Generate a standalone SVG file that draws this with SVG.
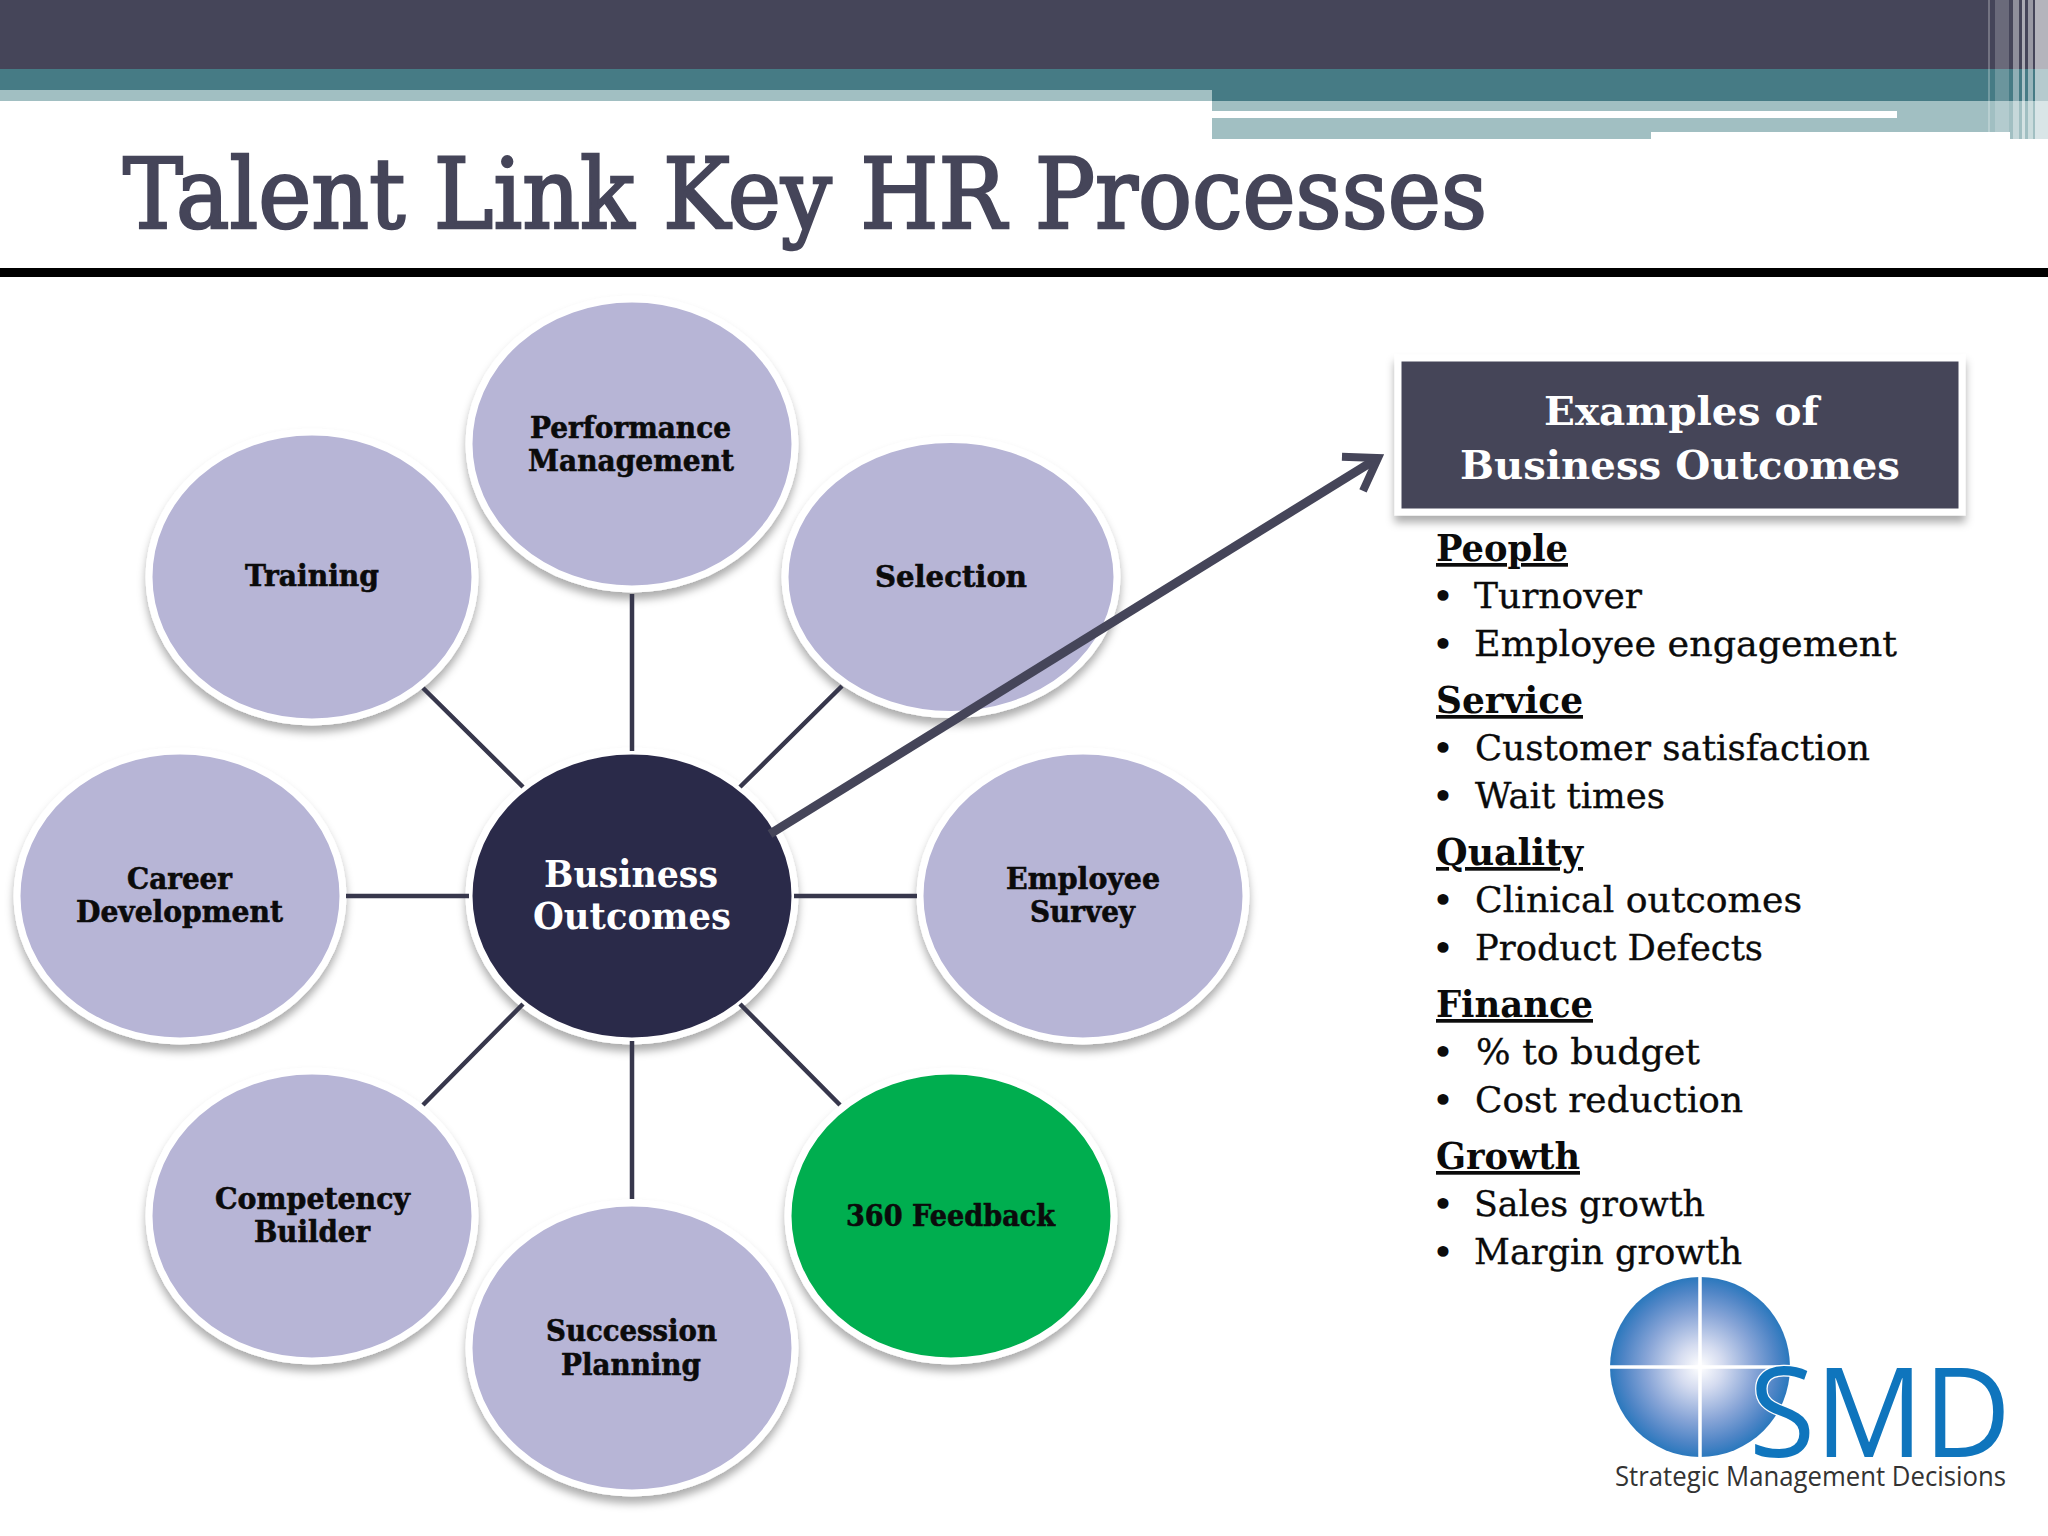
<svg xmlns="http://www.w3.org/2000/svg" width="2048" height="1536" viewBox="0 0 2048 1536">
<style>
text{font-family:"DejaVu Serif","Liberation Serif",serif}
.title{font-size:98px;fill:#454559;stroke:#454559;stroke-width:2.6}
.n{font-size:29px;font-weight:700;fill:#0b0b0b;stroke:#0b0b0b;stroke-width:.6}
.c{font-size:38px;font-weight:700;fill:#fff}
.h{font-size:40px;font-weight:700;fill:#fff}
.g{font-size:37px;font-weight:700;fill:#0b0b0b;text-decoration:underline}
.i{font-size:36px;fill:#0b0b0b;stroke:#0b0b0b;stroke-width:.35}
.b{font-size:38px;fill:#0b0b0b;text-anchor:middle}
.e{fill:#b7b5d6;stroke:#fff;stroke-width:7;filter:url(#sh)}
.l{stroke:#37374c;stroke-width:4.5;fill:none}
.logo{font-family:"Open Sans","Noto Sans",sans-serif}
</style>
<defs>
<filter id="sh" x="-15%" y="-15%" width="130%" height="135%"><feDropShadow dx="0" dy="7" stdDeviation="4" flood-color="#000" flood-opacity=".32"/></filter>
<radialGradient id="gl" cx=".5" cy=".5" r=".5"><stop offset="0" stop-color="#fff"/><stop offset=".25" stop-color="#d5dcf0"/><stop offset=".6" stop-color="#88a5d7"/><stop offset=".85" stop-color="#4f85c6"/><stop offset="1" stop-color="#2a78bd"/></radialGradient>
<marker id="ah" markerUnits="userSpaceOnUse" markerWidth="60" markerHeight="60" refX="50" refY="30" orient="auto" overflow="visible"><path d="M20,10 L50,30 L20,50" fill="none" stroke="#454559" stroke-width="8"/></marker>
</defs>
<rect width="2048" height="1536" fill="#fff"/>
<g id="header">
<rect width="2048" height="69" fill="#454559"/>
<rect y="69" width="2048" height="32" fill="#467b85"/>
<rect x="0" y="90" width="1212" height="11" fill="#a1bfc2"/>
<rect x="1212" y="101" width="836" height="38" fill="#a1bfc2"/>
<rect x="1651" y="132" width="359" height="7" fill="#fff"/>
<rect x="1212" y="111" width="685" height="7" fill="#fff"/>
<g fill="#fff">
<rect x="1988" y="0" width="2" height="139" opacity=".25"/>
<rect x="1995" y="0" width="14" height="139" opacity=".2"/>
<rect x="2013" y="0" width="6" height="139" opacity=".4"/>
<rect x="2022" y="0" width="3" height="139" opacity=".55"/>
<rect x="2028" y="0" width="5" height="139" opacity=".45"/>
<rect x="2035" y="0" width="13" height="139" opacity=".6"/>
</g>
<rect y="268" width="2048" height="9" fill="#000"/>
</g>
<text class="title" x="123" y="228" textLength="1364" lengthAdjust="spacingAndGlyphs">Talent Link Key HR Processes</text>
<g id="center"><ellipse class="e" cx="632" cy="896" rx="163" ry="145" style="fill:#2c2a4a"/>
<text class="c" x="544" y="887" textLength="174" lengthAdjust="spacingAndGlyphs">Business</text>
<text class="c" x="533" y="929" textLength="198" lengthAdjust="spacingAndGlyphs">Outcomes</text></g>
<g id="performance"><ellipse class="e" cx="632" cy="444" rx="163" ry="145"/>
<text class="n" x="530" y="438" textLength="201" lengthAdjust="spacingAndGlyphs">Performance</text>
<text class="n" x="528" y="471" textLength="206" lengthAdjust="spacingAndGlyphs">Management</text></g>
<g id="training"><ellipse class="e" cx="312" cy="577" rx="163" ry="145"/>
<text class="n" x="245" y="586" textLength="134" lengthAdjust="spacingAndGlyphs">Training</text></g>
<g id="selection"><ellipse class="e" cx="951" cy="577" rx="166" ry="137.5"/>
<text class="n" x="875" y="587" textLength="152" lengthAdjust="spacingAndGlyphs">Selection</text></g>
<g id="career"><ellipse class="e" cx="180" cy="896" rx="163" ry="145"/>
<text class="n" x="127" y="889" textLength="105" lengthAdjust="spacingAndGlyphs">Career</text>
<text class="n" x="76" y="922" textLength="207" lengthAdjust="spacingAndGlyphs">Development</text></g>
<g id="employee"><ellipse class="e" cx="1083" cy="896" rx="163" ry="145"/>
<text class="n" x="1006" y="889" textLength="154" lengthAdjust="spacingAndGlyphs">Employee</text>
<text class="n" x="1030" y="922" textLength="105" lengthAdjust="spacingAndGlyphs">Survey</text></g>
<g id="competency"><ellipse class="e" cx="312" cy="1216" rx="163" ry="145"/>
<text class="n" x="215" y="1209" textLength="195" lengthAdjust="spacingAndGlyphs">Competency</text>
<text class="n" x="254" y="1242" textLength="116" lengthAdjust="spacingAndGlyphs">Builder</text></g>
<g id="feedback"><ellipse class="e" cx="951" cy="1216" rx="163" ry="145" style="fill:#00ae4f"/>
<text class="n" x="846" y="1226" textLength="209" lengthAdjust="spacingAndGlyphs">360 Feedback</text></g>
<g id="succession"><ellipse class="e" cx="632" cy="1348" rx="163" ry="145"/>
<text class="n" x="546" y="1341" textLength="171" lengthAdjust="spacingAndGlyphs">Succession</text>
<text class="n" x="561" y="1375" textLength="140" lengthAdjust="spacingAndGlyphs">Planning</text></g>
<g id="connectors">
<path class="l" d="M632,594V751M632,1041V1199M346,896H469M794,896H917M523,787L423,688M740,787L842,686M523,1004L423,1105M740,1004L840,1105"/>
<path d="M770,834L1378,458" fill="none" stroke="#454559" stroke-width="9" marker-end="url(#ah)"/>
</g>
<g id="outcomes-box"><rect x="1398" y="358" width="564" height="154" fill="#454559" stroke="#fff" stroke-width="7" filter="url(#sh)"/>
<text class="h" x="1544" y="425" textLength="275" lengthAdjust="spacingAndGlyphs">Examples of</text>
<text class="h" x="1460" y="479" textLength="440" lengthAdjust="spacingAndGlyphs">Business Outcomes</text></g>
<g id="outcomes-list">
<text class="g" x="1436" y="561" textLength="132" lengthAdjust="spacingAndGlyphs">People</text>
<text class="b" x="1443" y="609">•</text><text class="i" x="1474" y="608" textLength="168" lengthAdjust="spacingAndGlyphs">Turnover</text>
<text class="b" x="1443" y="657">•</text><text class="i" x="1474" y="656" textLength="423" lengthAdjust="spacingAndGlyphs">Employee engagement</text>
<text class="g" x="1436" y="713" textLength="147" lengthAdjust="spacingAndGlyphs">Service</text>
<text class="b" x="1443" y="761">•</text><text class="i" x="1475" y="760" textLength="395" lengthAdjust="spacingAndGlyphs">Customer satisfaction</text>
<text class="b" x="1443" y="809">•</text><text class="i" x="1475" y="808" textLength="190" lengthAdjust="spacingAndGlyphs">Wait times</text>
<text class="g" x="1436" y="865" textLength="147" lengthAdjust="spacingAndGlyphs">Quality</text>
<text class="b" x="1443" y="913">•</text><text class="i" x="1475" y="912" textLength="327" lengthAdjust="spacingAndGlyphs">Clinical outcomes</text>
<text class="b" x="1443" y="961">•</text><text class="i" x="1475" y="960" textLength="288" lengthAdjust="spacingAndGlyphs">Product Defects</text>
<text class="g" x="1436" y="1017" textLength="157" lengthAdjust="spacingAndGlyphs">Finance</text>
<text class="b" x="1443" y="1065">•</text><text class="i" x="1476" y="1064" textLength="224" lengthAdjust="spacingAndGlyphs">% to budget</text>
<text class="b" x="1443" y="1113">•</text><text class="i" x="1475" y="1112" textLength="268" lengthAdjust="spacingAndGlyphs">Cost reduction</text>
<text class="g" x="1436" y="1169" textLength="144" lengthAdjust="spacingAndGlyphs">Growth</text>
<text class="b" x="1443" y="1217">•</text><text class="i" x="1474" y="1216" textLength="231" lengthAdjust="spacingAndGlyphs">Sales growth</text>
<text class="b" x="1443" y="1265">•</text><text class="i" x="1474" y="1264" textLength="268" lengthAdjust="spacingAndGlyphs">Margin growth</text>
</g>
<g id="logo">
<circle cx="1700" cy="1367" r="90" fill="url(#gl)"/>
<path d="M1700,1277V1457M1610,1367H1790" stroke="#fff" stroke-width="3.5"/>
<text class="logo" x="1749" y="1457" font-size="125" fill="#0f75bd" stroke="#fff" stroke-width="2.5" paint-order="stroke" textLength="262" lengthAdjust="spacingAndGlyphs">SMD</text>
<text class="logo" x="1615" y="1486" font-size="27" fill="#333" textLength="391" lengthAdjust="spacingAndGlyphs">Strategic Management Decisions</text>
</g>
</svg>
